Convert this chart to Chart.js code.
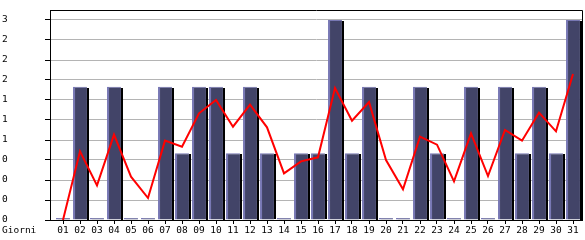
<!DOCTYPE html>
<html>
<head>
<meta charset="utf-8">
<script src="https://cdn.jsdelivr.net/npm/chart.js@4/dist/chart.umd.min.js"></script>
<style>
body { margin: 0; background: #fff; }
canvas { display: block; }
</style>
</head>
<body>
<canvas id="myChart" width="585" height="240"></canvas>
<script>
// data
const days = ['01', '02', '03', '04', '05', '06', '07', '08', '09', '10', '11', '12', '13', '14', '15', '16',
    '17', '18', '19', '20', '21', '22', '23', '24', '25', '26', '27', '28', '29', '30', '31'];
const visits = [0, 2, 0, 2, 0, 0, 2, 1, 2, 2, 1, 2, 1, 0, 1, 1, 3, 1, 2, 0, 0, 2, 1, 0, 2, 0, 2, 1, 2, 1, 3];
const trend = [0, 1.03, 0.52, 1.28, 0.65, 0.33, 1.19, 1.1, 1.6, 1.8, 1.4, 1.73, 1.39, 0.7, 0.88, 0.94,
    1.98, 1.49, 1.77, 0.9, 0.46, 1.25, 1.13, 0.58, 1.3, 0.66, 1.35, 1.19, 1.61, 1.33, 2.19];
const yTicks = [0, 0.3, 0.6, 0.9, 1.2, 1.5, 1.8, 2.1, 2.4, 2.7, 3.0];
const yTickLabels = ['0', '0', '0', '0', '1', '1', '1', '2', '2', '2', '3'];
const xTitle = 'Giorni';

const FONT = { family: "'DejaVu Sans Mono', monospace", size: 9.5 };

// black drop shadow on the right of bars + frame + axis caption
const extras = {
    id: 'extras',
    afterDatasetDraw(chart, args) {
        if (args.index !== 0) return;
        const c = chart.ctx;
        c.save();
        c.fillStyle = '#000';
        args.meta.data.forEach(function (el, i) {
            if (!visits[i]) return;
            c.fillRect(Math.round(el.x + el.width / 2), Math.round(el.y) + 1, 2, Math.round(el.base - el.y) - 1);
        });
        c.restore();
    },
    afterDraw(chart) {
        const c = chart.ctx;
        const a = chart.chartArea;
        c.save();
        c.strokeStyle = '#000';
        c.lineWidth = 1;
        c.beginPath();
        c.moveTo(Math.round(a.left) + 0.5, Math.round(a.top) + 0.5);
        c.lineTo(Math.round(a.right) + 0.5, Math.round(a.top) + 0.5);
        c.lineTo(Math.round(a.right) + 0.5, Math.round(a.bottom) + 0.5);
        c.stroke();
        c.fillStyle = '#000';
        c.font = FONT.size + 'px ' + FONT.family;
        c.textBaseline = 'middle';
        c.textAlign = 'left';
        c.fillText(xTitle, 2, a.bottom + 11);
        c.restore();
    }
};

const ctx = document.getElementById('myChart').getContext('2d');
const myChart = new Chart(ctx, {
    type: 'bar',
    data: {
        datasets: [{
            type: 'bar',
            data: visits.map((v, i) => ({ x: i + 1, y: v })),
            backgroundColor: '#424468',
            borderColor: '#7878b4',
            borderWidth: { left: 2, top: 1, right: 0, bottom: 0 },
            borderSkipped: 'start',
            minBarLength: 2,
            barPercentage: 0.82,
            categoryPercentage: 1,
            order: 1
        }, {
            type: 'line',
            data: trend.map((v, i) => ({ x: i + 1, y: v })),
            borderColor: '#ff0000',
            borderWidth: 2,
            pointRadius: 0,
            tension: 0,
            order: 0
        }]
    },
    plugins: [extras],
    options: {
        responsive: false,
        animation: false,
        events: [],
        layout: { padding: { left: 2, top: 10, right: 3, bottom: 0 } },
        plugins: { legend: { display: false }, tooltip: { enabled: false } },
        scales: {
            x: {
                type: 'linear',
                offset: false,
                min: 1 - 13 / 17,
                max: 31 + 9 / 17,
                afterBuildTicks: function (scale) {
                    scale.ticks = days.map((d, i) => ({ value: i + 1 }));
                },
                afterFit: function (scale) { scale.height = 20; },
                grid: { offset: false, drawOnChartArea: false, tickLength: 4, tickColor: '#000' },
                border: { color: '#000' },
                ticks: {
                    color: '#000',
                    font: FONT,
                    padding: 1,
                    maxRotation: 0,
                    autoSkip: false,
                    callback: (v, i) => days[i]
                }
            },
            y: {
                min: 0,
                max: 3.15,
                afterBuildTicks: function (scale) {
                    scale.ticks = yTicks.map(v => ({ value: v }));
                },
                afterFit: function (scale) { scale.width = 48; },
                grid: { color: '#b4b4b4', tickLength: 5, tickColor: '#000' },
                border: { color: '#000' },
                ticks: {
                    color: '#000',
                    font: FONT,
                    crossAlign: 'far',
                    callback: (v, i) => yTickLabels[i]
                }
            }
        }
    }
});
</script>
</body>
</html>
